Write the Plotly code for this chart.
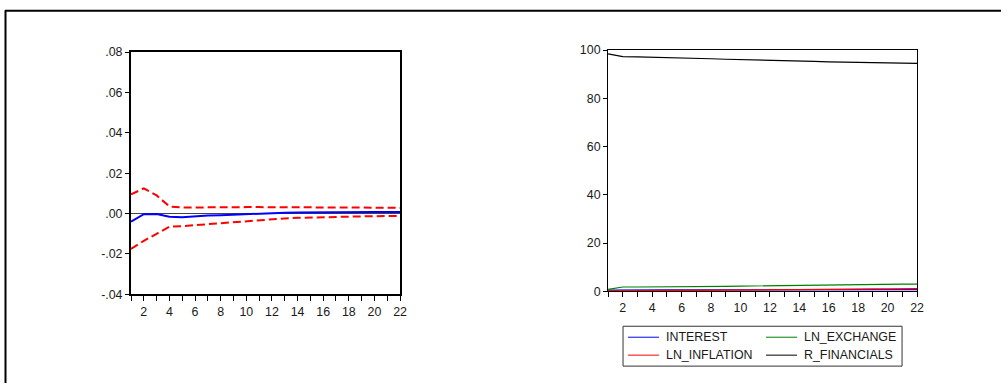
import plotly.graph_objects as go

W, H = 1008, 390

periods = list(range(1, 23))

# Left panel: impulse response with +/- 2 S.E. bands
irf_response = [-0.0040, -0.0003, -0.0002, -0.0016, -0.0018, -0.0013, -0.0010, -0.0008,
                -0.0005, -0.0002, 0.0000, 0.0002, 0.0004, 0.0005, 0.0006, 0.0007,
                0.0007, 0.0008, 0.0008, 0.0008, 0.0008, 0.0008]
irf_upper = [0.0095, 0.0125, 0.0090, 0.0035, 0.0030, 0.0031, 0.0031, 0.0032,
             0.0032, 0.0032, 0.0032, 0.0032, 0.0032, 0.0032, 0.0032, 0.0032,
             0.0032, 0.0031, 0.0031, 0.0030, 0.0029, 0.0028]
irf_lower = [-0.0175, -0.0135, -0.0100, -0.0065, -0.0062, -0.0057, -0.0052, -0.0047,
             -0.0042, -0.0037, -0.0032, -0.0027, -0.0024, -0.0021, -0.0019, -0.0017,
             -0.0016, -0.0015, -0.0014, -0.0013, -0.0013, -0.0012]

# Right panel: variance decomposition (percent)
vd_interest = [0.5, 0.6, 0.6, 0.6, 0.6, 0.6, 0.6, 0.6, 0.6, 0.6, 0.6,
               0.6, 0.6, 0.6, 0.6, 0.7, 0.7, 0.7, 0.7, 0.7, 0.7, 0.7]
vd_ln_exchange = [0.8, 1.8, 1.8, 1.8, 1.8, 1.9, 2.0, 2.0, 2.1, 2.2, 2.3,
                  2.4, 2.5, 2.6, 2.6, 2.7, 2.8, 2.8, 2.9, 2.9, 3.0, 3.0]
vd_ln_inflation = [0.2, 0.3, 0.3, 0.3, 0.4, 0.4, 0.4, 0.5, 0.5, 0.5, 0.6,
                   0.6, 0.7, 0.7, 0.8, 0.8, 0.9, 0.9, 1.0, 1.0, 1.1, 1.1]
vd_r_financials = [98.4, 97.3, 97.2, 97.1, 96.9, 96.7, 96.6, 96.4, 96.2, 96.1, 95.9,
                   95.7, 95.6, 95.4, 95.3, 95.1, 95.0, 94.9, 94.8, 94.6, 94.5, 94.5]

left_yticks = [0.08, 0.06, 0.04, 0.02, 0.00, -0.02, -0.04]
left_yticklabels = [".08", ".06", ".04", ".02", ".00", "-.02", "-.04"]
right_yticks = [0, 20, 40, 60, 80, 100]
x_ticklabels = [str(p) if p % 2 == 0 else "" for p in periods]

legend_names = ["INTEREST", "LN_EXCHANGE", "LN_INFLATION", "R_FINANCIALS"]
legend_colors = ["#0000ff", "#008000", "#ff0000", "#000000"]

FONT = "Liberation Sans, Arial, sans-serif"
TXT = "#1a1a1a"
FS = 12.4

# mapping from target-picture pixels to figure pixels (compensates the page capture)
SX, SY, OY = 0.993, 0.967, 5.8

def px_x(p):
    return (p / SX) / W

def px_y(p):
    return 1 - ((p - OY) / SY) / H

fig = go.Figure()

fig.add_trace(go.Scatter(x=periods, y=irf_upper, mode="lines", xaxis="x", yaxis="y",
                         line=dict(color="#ff0000", width=2, dash="8px,4px"), showlegend=False))
fig.add_trace(go.Scatter(x=periods, y=irf_lower, mode="lines", xaxis="x", yaxis="y",
                         line=dict(color="#ff0000", width=2, dash="8px,4px"), showlegend=False))
fig.add_trace(go.Scatter(x=periods, y=irf_response, mode="lines", xaxis="x", yaxis="y",
                         line=dict(color="#0000ff", width=2), showlegend=False))

for name, vals, col in [("INTEREST", vd_interest, "#0000ff"),
                        ("LN_EXCHANGE", vd_ln_exchange, "#008000"),
                        ("LN_INFLATION", vd_ln_inflation, "#ff0000"),
                        ("R_FINANCIALS", vd_r_financials, "#000000")]:
    fig.add_trace(go.Scatter(x=periods, y=vals, mode="lines", name=name, xaxis="x2", yaxis="y2",
                             line=dict(color=col, width=1.2), showlegend=False))

tickfont = dict(family=FONT, size=FS, color=TXT)

common_x = dict(tickmode="array", tickvals=periods, ticktext=x_ticklabels, ticks="outside",
                ticklen=5, tickcolor="black", tickfont=tickfont, showgrid=False,
                zeroline=False, showline=True, linecolor="black", mirror=True,
                range=[1, 22])

fig.update_layout(
    width=W, height=H,
    margin=dict(l=0, r=0, t=0, b=0),
    paper_bgcolor="white", plot_bgcolor="white",
    font=dict(family=FONT, size=FS, color=TXT),
    xaxis=dict(domain=[px_x(131), px_x(400)], anchor="y", linewidth=2, **common_x),
    yaxis=dict(domain=[px_y(294), px_y(51)], anchor="x", range=[-0.04, 0.08],
               tickmode="array", tickvals=left_yticks, ticktext=left_yticklabels,
               ticks="outside", ticklen=4, tickcolor="black", tickfont=tickfont,
               showgrid=False, zeroline=True, zerolinecolor="#444444", zerolinewidth=1,
               showline=True, linecolor="black", linewidth=2, mirror=True),
    xaxis2=dict(domain=[px_x(608), px_x(917)], anchor="y2", linewidth=1, **common_x),
    yaxis2=dict(domain=[px_y(291), px_y(49)], anchor="x2", range=[0, 100],
                tickmode="array", tickvals=right_yticks,
                ticks="outside", ticklen=4, tickcolor="black", tickfont=tickfont,
                showgrid=False, zeroline=False,
                showline=True, linecolor="black", linewidth=1, mirror=True),
    showlegend=False,
)

shapes = []
# outer frame (top and left edges visible in the picture)
shapes.append(dict(type="line", xref="paper", yref="paper", x0=px_x(5), x1=1.0,
                   y0=px_y(9.5), y1=px_y(9.5), line=dict(color="black", width=2)))
shapes.append(dict(type="line", xref="paper", yref="paper", x0=px_x(5.5), x1=px_x(5.5),
                   y0=px_y(9), y1=0, line=dict(color="black", width=2)))
# legend box
shapes.append(dict(type="rect", xref="paper", yref="paper", x0=px_x(623), x1=px_x(902),
                   y0=px_y(366), y1=px_y(326), line=dict(color="#333333", width=1),
                   fillcolor="white"))
annotations = []
legend_pos = [(628, 337), (766, 337), (628, 355), (766, 355)]
for name, col, (lx, ly) in zip(legend_names, legend_colors, legend_pos):
    shapes.append(dict(type="line", xref="paper", yref="paper", x0=px_x(lx), x1=px_x(lx + 31),
                       y0=px_y(ly), y1=px_y(ly), line=dict(color=col, width=1)))
    annotations.append(dict(xref="paper", yref="paper", x=px_x(lx + 36), y=px_y(ly),
                            text=name, showarrow=False, xanchor="left", yanchor="middle",
                            font=dict(family=FONT, size=FS, color=TXT)))

fig.update_layout(shapes=shapes, annotations=annotations)

fig.write_html("out.html", config={"displayModeBar": False},
               post_script="document.body.style.margin='0';document.body.style.overflow='hidden';")
